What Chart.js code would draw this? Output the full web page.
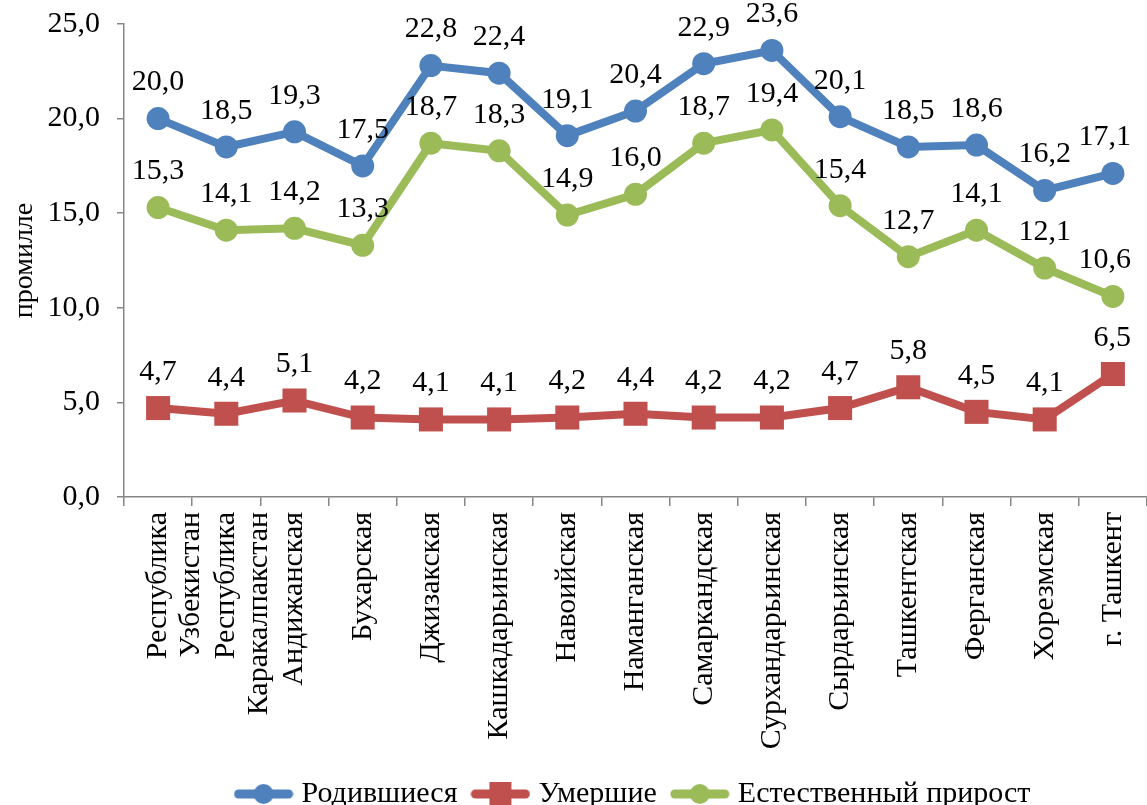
<!DOCTYPE html>
<html>
<head>
<meta charset="utf-8">
<script src="https://cdn.jsdelivr.net/npm/chart.js@4.4.1/dist/chart.umd.min.js"></script>
<style>
  body { margin: 0; background: #fff; }
  #wrap { width: 1147px; height: 805px; }
</style>
</head>
<body>
<div id="wrap"><canvas id="chart" width="1147" height="805"></canvas></div>
<script>
// Chart data
const regions = [
  ["Республика", "Узбекистан"],
  ["Республика", "Каракалпакстан"],
  "Андижанская", "Бухарская", "Джизакская", "Кашкадарьинская", "Навоийская",
  "Наманганская", "Самаркандская", "Сурхандарьинская", "Сырдарьинская",
  "Ташкентская", "Ферганская", "Хорезмская", "г. Ташкент"
];
const born = [20.0, 18.5, 19.3, 17.5, 22.8, 22.4, 19.1, 20.4, 22.9, 23.6, 20.1, 18.5, 18.6, 16.2, 17.1];
const died = [4.7, 4.4, 5.1, 4.2, 4.1, 4.1, 4.2, 4.4, 4.2, 4.2, 4.7, 5.8, 4.5, 4.1, 6.5];
const growth = [15.3, 14.1, 14.2, 13.3, 18.7, 18.3, 14.9, 16.0, 18.7, 19.4, 15.4, 12.7, 14.1, 12.1, 10.6];
const seriesNames = ["Родившиеся", "Умершие", "Естественный прирост"];

const FONT = "'Liberation Serif', 'Times New Roman', serif";
const BLUE = "#4F81BD";
const RED = "#C0504D";
const GREEN = "#9BBB59";
const AXIS = "#868686";

function fmt(v) {
  return v.toFixed(1).replace(".", ",");
}

// Legend symbol: short thick line with the marker in the middle
function legendSymbol(color, shape) {
  const c = document.createElement("canvas");
  c.width = 60;
  c.height = 26;
  const ctx = c.getContext("2d");
  ctx.strokeStyle = color;
  ctx.fillStyle = color;
  ctx.lineWidth = 9;
  ctx.lineCap = "round";
  ctx.beginPath();
  ctx.moveTo(5, 13);
  ctx.lineTo(55, 13);
  ctx.stroke();
  if (shape === "rect") {
    ctx.fillRect(19, 1, 22, 24);
  } else {
    ctx.beginPath();
    ctx.arc(30, 13, 10, 0, Math.PI * 2);
    ctx.fill();
  }
  return c;
}

// Value labels above each point
const valueLabels = {
  id: "valueLabels",
  afterDatasetsDraw(chart) {
    const ctx = chart.ctx;
    ctx.save();
    ctx.font = "30px " + FONT;
    ctx.fillStyle = "#000";
    ctx.textAlign = "center";
    ctx.textBaseline = "middle";
    chart.data.datasets.forEach((ds, i) => {
      const meta = chart.getDatasetMeta(i);
      meta.data.forEach((pt, j) => {
        const text = fmt(ds.data[j]);
        const w = ctx.measureText(text).width;
        let x = pt.x;
        // keep the last labels inside, like the original
        if (x + w / 2 > chart.width - 16) x = chart.width - 16 - w / 2;
        ctx.fillText(text, x, pt.y - 36);
      });
    });
    ctx.restore();
  },
};

// The legend sits a little right of centre in the original
const legendShift = {
  id: "legendShift",
  afterLayout(chart) {
    if (chart.legend) {
      chart.legend.left += 60;
      chart.legend.right += 60;
    }
  },
};

function makeDataset(label, data, color, shape, radius) {
  return {
    label: label,
    data: data,
    borderColor: color,
    backgroundColor: color,
    borderWidth: 8,
    pointStyle: shape,
    pointRadius: radius,
    pointHoverRadius: radius,
    pointBorderWidth: 0,
    tension: 0,
  };
}

new Chart(document.getElementById("chart"), {
  type: "line",
  data: {
    labels: regions,
    datasets: [
      makeDataset(seriesNames[0], born, BLUE, "circle", 11.5),
      makeDataset(seriesNames[1], died, RED, "rect", 17),
      makeDataset(seriesNames[2], growth, GREEN, "circle", 11.5),
    ],
  },
  options: {
    responsive: false,
    animation: false,
    layout: { autoPadding: false, padding: { top: 24, right: -4, left: 0, bottom: -14 } },
    plugins: {
      legend: {
        position: "bottom",
        labels: {
          usePointStyle: true,
          pointStyleWidth: 46,
          boxHeight: 26,
          padding: 20,
          color: "#000",
          font: { family: FONT, size: 30 },
          generateLabels(chart) {
            const shapes = ["circle", "rect", "circle"];
            return chart.data.datasets.map((ds, i) => ({
              text: ds.label,
              pointStyle: legendSymbol(ds.borderColor, shapes[i]),
              fillStyle: ds.borderColor,
              strokeStyle: ds.borderColor,
              lineWidth: 0,
              hidden: false,
              datasetIndex: i,
            }));
          },
        },
      },
      tooltip: { enabled: false },
    },
    scales: {
      x: {
        offset: true,
        grid: {
          display: true,
          offset: true,
          drawOnChartArea: false,
          drawTicks: true,
          tickLength: 9,
          color: AXIS,
          lineWidth: 1.5,
        },
        border: { color: AXIS, width: 1.5 },
        ticks: {
          minRotation: 90,
          maxRotation: 90,
          autoSkip: false,
          padding: 6,
          color: "#000",
          font: { family: FONT, size: 30, lineHeight: 1.1 },
        },
        afterFit(scale) {
          scale.height = 262;
          scale.paddingLeft = 0;
          scale.paddingRight = 0;
        },
      },
      y: {
        min: 0,
        max: 25,
        grid: {
          display: true,
          drawOnChartArea: false,
          drawTicks: true,
          tickLength: 7,
          color: AXIS,
          lineWidth: 1.5,
        },
        border: { color: AXIS, width: 1.5 },
        ticks: {
          stepSize: 5,
          padding: 17,
          color: "#000",
          font: { family: FONT, size: 30 },
          callback: (v) => fmt(v),
        },
        title: {
          display: true,
          text: "промилле",
          color: "#000",
          font: { family: FONT, size: 28 },
          padding: { top: 8, bottom: 0 },
        },
        afterFit(scale) {
          scale.width = 124;
          scale.paddingTop = 0;
          scale.paddingBottom = 0;
        },
      },
    },
  },
  plugins: [valueLabels, legendShift],
});
</script>
</body>
</html>
